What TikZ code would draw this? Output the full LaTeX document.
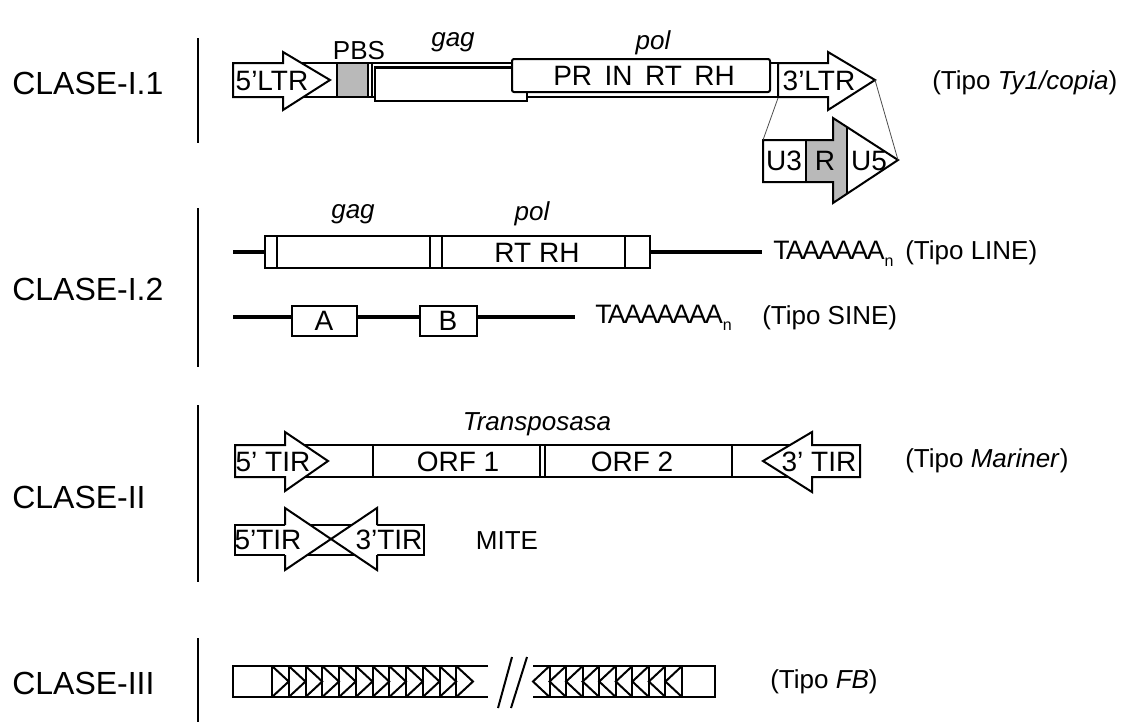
\documentclass[tikz,border=0pt]{standalone}
\usepackage{fontspec}
\setmainfont{Liberation Sans}
\begin{document}
\begin{tikzpicture}[x=0.75pt,y=-0.75pt,
  ln/.style={line width=1.5pt, line join=miter},
  wb/.style={draw, fill=white, line width=1.5pt, line join=miter},
  gb/.style={fill=gray!55},
  fine/.style={line width=0.6pt, black!70},
  bb/.style={line width=3pt},
  sep/.style={line width=2pt},
  cls/.style={font=\fontsize{24}{28}\selectfont, anchor=west, inner sep=0pt},
  bt/.style={font=\fontsize{21}{24}\selectfont, inner sep=0pt},
  lt/.style={font=\fontsize{19.5}{23}\selectfont, inner sep=0pt},
  ltw/.style={lt, anchor=west},
  it/.style={font=\fontsize{19.5}{23}\selectfont\itshape, inner sep=0pt},
  polyA/.style={font=\fontsize{20}{23}\selectfont\addfontfeature{LetterSpace=-6}, inner sep=0pt, anchor=west}]
\useasboundingbox (0,0) rectangle (1126,722);

% ---------- class labels and separators ----------
\node[cls] (c1) at (12,83) {CLASE-I.1};
\node[cls] (c2) at (12,289) {CLASE-I.2};
\node[cls] (c3) at (12,497) {CLASE-II};
\node[cls] (c4) at (12,683) {CLASE-III};
\draw[sep] (198,38) -- (198,143);
\draw[sep] (198,208) -- (198,367);
\draw[sep] (198,405) -- (198,582);
\draw[sep] (198,638) -- (198,722);

% ---------- CLASE-I.1 ----------
\draw[wb] (233,63) rectangle (778,97);
\draw[wb] (233,63) -- (283,63) -- (283,52) -- (330,80) -- (283,110) -- (283,97) -- (233,97) -- cycle;
\draw[wb, gb] (337,63) rectangle (368,97);
\draw[ln] (372,63) -- (372,97);
\draw[wb] (375,67) rectangle (527,101);
\draw[line width=2.2pt] (375,68) -- (512,68);
\draw[wb, rounded corners=1.5pt] (512,59) rectangle (770,92);
\draw[wb] (778,63) -- (828,63) -- (828,52) -- (875,80) -- (828,110) -- (828,97) -- (778,97) -- cycle;
\node[bt] (t5ltr) at (272,81) {5'LTR};
\node[lt] (pbs) at (359,51) {PBS};
\node[it] (gag1) at (453,42) {gag};
\node[it] (pol1) at (653,43) {pol};
\node[bt] (prin) at (644,76) {PR\ \,IN\ \,RT\ \,RH};
\node[bt] (t3ltr) at (819,81) {3'LTR};
\node[ltw] (ty1) at (932,83) {(Tipo \textit{Ty1/copia})};
% LTR expansion
\fill[gb] (806,140) -- (833,140) -- (833,118) -- (847,127) -- (847,194) -- (833,203) -- (833,182) -- (806,182) -- cycle;
\fill[white] (847,127) -- (898,160) -- (847,194) -- cycle;
\fill[white] (763,140) rectangle (806,182);
\draw[ln] (763,140) -- (833,140) -- (833,118) -- (898,160) -- (833,203) -- (833,182) -- (763,182) -- cycle;
\draw[ln] (806,140) -- (806,182);
\draw[ln] (847,127) -- (847,194);
\coordinate (ltrA) at (778,98);
\coordinate (ltrB) at (875,80);
\coordinate (expA) at (763,140);
\coordinate (expB) at (898,160);
\draw[fine] (ltrA) -- (expA);
\draw[fine] (ltrB) -- (expB);
\node[bt] (u3) at (784,161) {U3};
\node[bt] (r) at (825,161) {R};
\node[bt] (u5) at (869,161) {U5};

% ---------- CLASE-I.2 ----------
\draw[bb] (233,252) -- (265,252);
\draw[bb] (650,252) -- (762,252);
\draw[wb] (265,236) rectangle (650,268);
\draw[ln] (277,236) -- (277,268);
\draw[ln] (430,236) -- (430,268);
\draw[ln] (442,236) -- (442,268);
\draw[ln] (625,236) -- (625,268);
\node[it] (gag2) at (353,214) {gag};
\node[it] (pol2) at (532,214) {pol};
\node[bt] (rtrh) at (537,253) {RT\ RH};
\node[polyA] (polyl) at (773,254) {TAAAAAA\raisebox{-5pt}{\fontsize{12}{12}\selectfont n}};
\node[ltw] (tline) at (905,253) {(Tipo LINE)};

\draw[bb] (233,317) -- (575,317);
\draw[wb] (292,306) rectangle (357,336);
\draw[wb] (420,306) rectangle (477,336);
\node[bt] (ta) at (324,321) {A};
\node[bt] (tb) at (448,321) {B};
\node[polyA] (polys) at (595,318) {TAAAAAAA\raisebox{-5pt}{\fontsize{12}{12}\selectfont n}};
\node[ltw] (tsine) at (762,318) {(Tipo SINE)};

% ---------- CLASE-II ----------
\draw[wb] (235,445) rectangle (860,477);
\draw[line width=2.2pt] (235,445) -- (860,445);
\draw[ln] (373,445) -- (373,477);
\draw[ln] (540,445) -- (540,477);
\draw[ln] (545,445) -- (545,477);
\draw[ln] (732,445) -- (732,477);
\draw[wb] (235,445) -- (285,445) -- (285,432) -- (328,461) -- (285,491) -- (285,477) -- (235,477) -- cycle;
\draw[wb] (860,445) -- (812,445) -- (812,432) -- (763,461) -- (812,492) -- (812,477) -- (860,477) -- cycle;
\node[bt] (t5tir) at (273,462) {5' TIR};
\node[bt] (orf1) at (458,462) {ORF 1};
\node[bt] (orf2) at (632,462) {ORF 2};
\node[bt] (t3tir) at (819,462) {3' TIR};
\node[it] (transp) at (537,424) {Transposasa};
\node[ltw] (tmar) at (905,461) {(Tipo \textit{Mariner})};

% MITE
\draw[wb] (235,525) rectangle (424,555);
\fill[white] (285,508) -- (331,539) -- (285,570) -- cycle;
\fill[white] (377,508) -- (331,539) -- (377,570) -- cycle;
\draw[ln] (285,525) -- (285,508) -- (331,539) -- (285,570) -- (285,555);
\draw[ln] (377,525) -- (377,508) -- (331,539) -- (377,570) -- (377,555);
\node[bt] (m5) at (268,540) {5'TIR};
\node[bt] (m3) at (389,540) {3'TIR};
\node[lt] (mite) at (507,541) {MITE};

% ---------- CLASE-III ----------
\draw[ln] (488,666) -- (233,666) -- (233,697) -- (488,697);
\foreach \i in {0,...,11} {
  \pgfmathsetmacro{\xa}{272+\i*16.75}
  \pgfmathsetmacro{\xb}{272+(\i+1)*16.75}
  \draw[ln] (\xa,666) -- (\xa,697);
  \draw[ln] (\xa,666) -- (\xb,681.5) -- (\xa,697);
}
\draw[ln] (533,666) -- (715,666) -- (715,697) -- (533,697);
\draw[ln] (682,666) -- (682,697);
\foreach \i in {0,...,8} {
  \pgfmathsetmacro{\xa}{682-\i*16.56}
  \pgfmathsetmacro{\xb}{682-(\i+1)*16.56}
  \draw[ln] (\xa,666) -- (\xa,697);
  \draw[ln] (\xa,666) -- (\xb,681.5) -- (\xa,697);
}
\draw[ln] (498,708) -- (512,657);
\draw[ln] (511,708) -- (527,657);
\node[ltw] (tfb) at (770,682) {(Tipo \textit{FB})};
\end{tikzpicture}
\end{document}
